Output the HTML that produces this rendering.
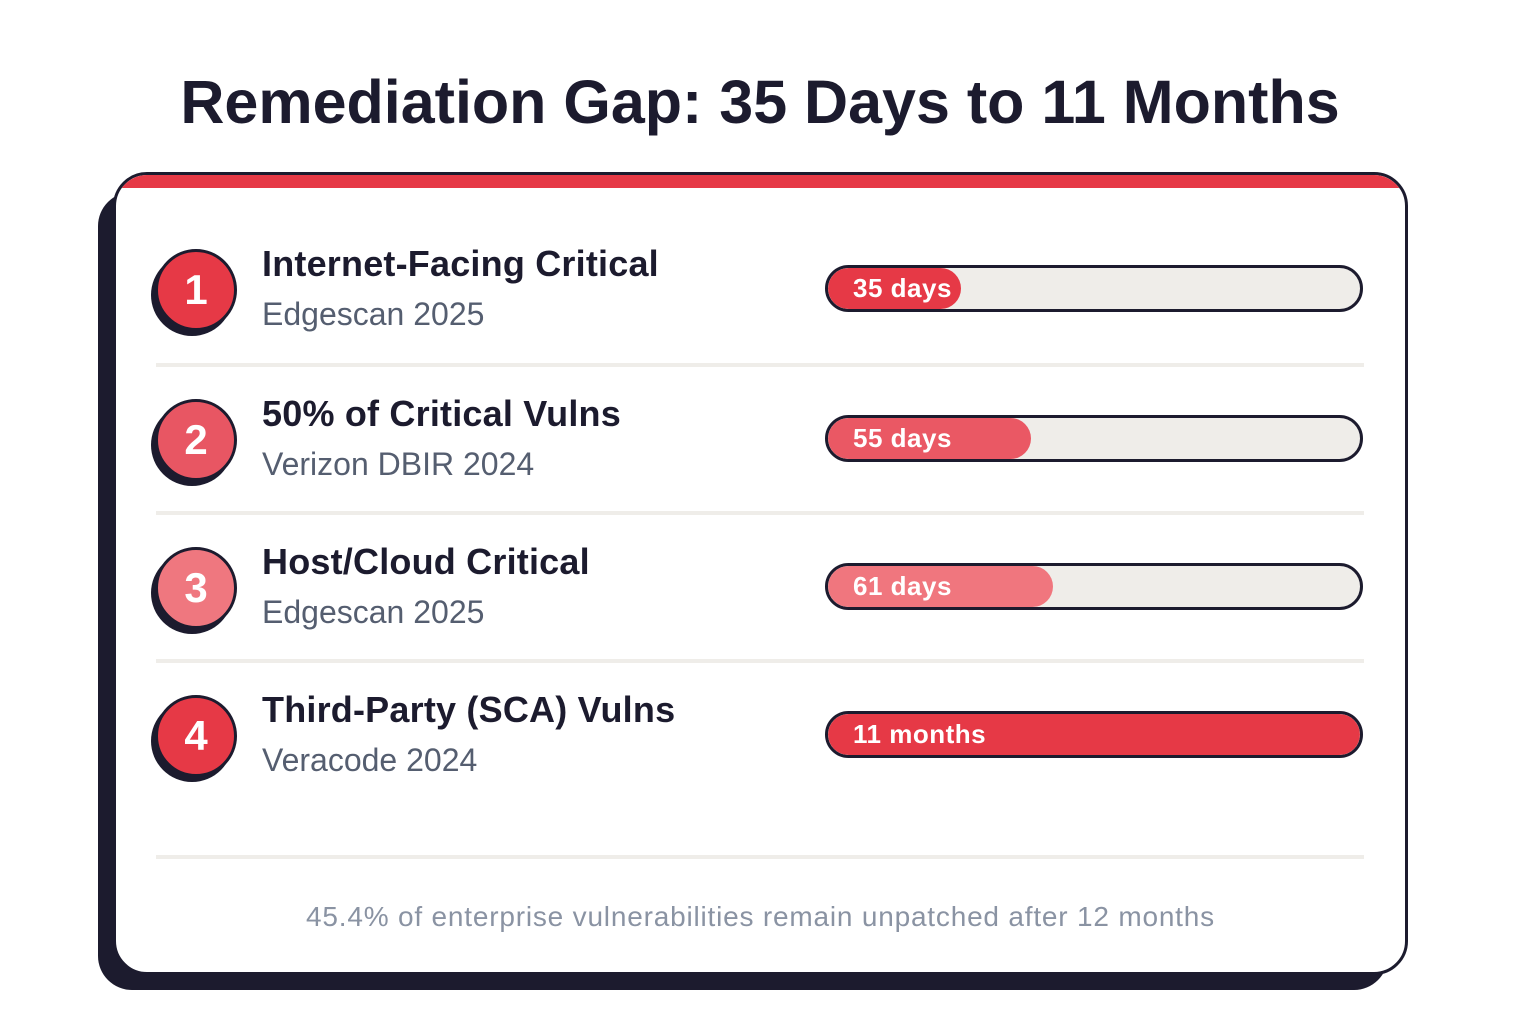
<!DOCTYPE html>
<html><head><style>
body{margin:0;width:1520px;height:1032px;background:#fff;font-family:"Liberation Sans",sans-serif;position:relative;overflow:hidden}
.t{position:absolute;left:0;width:1520px;text-align:center;top:67px;font-size:61px;font-weight:bold;color:#1c1b2e;letter-spacing:0px}
.sh{position:absolute;left:98px;top:192px;width:1290px;height:798px;background:#1c1b2e;border-radius:34px}
.card{position:absolute;left:113px;top:172px;width:1289px;height:797px;background:#fff;border:3px solid #1c1b2e;border-radius:34px;overflow:hidden}
.red{position:absolute;left:0;top:0;width:100%;height:13px;background:#e63946}
.row{position:absolute;left:0;width:100%}
.c{position:absolute;left:39px;width:76px;height:76px;border-radius:50%;border:3px solid #1c1b2e;box-shadow:-4px 5px 0 #1c1b2e;color:#fff;font-size:42px;font-weight:bold;text-align:center;line-height:76px}
.h{position:absolute;left:146px;font-size:36px;font-weight:bold;color:#1c1b2e;letter-spacing:0.2px}
.s{position:absolute;left:146px;font-size:32px;color:#555e70}
.bar{position:absolute;left:709px;width:532px;height:41px;border:3px solid #1c1b2e;border-radius:24px;background:#efede9;overflow:hidden}
.f{height:100%;border-radius:22px;color:#fff;font-size:26px;font-weight:bold;line-height:41px;padding-left:25px;box-sizing:border-box;letter-spacing:0.5px}
.d{position:absolute;left:40px;width:1208px;height:4px;background:#efede9}
.foot{position:absolute;left:0;width:100%;text-align:center;top:726px;font-size:28px;color:#8a93a3;letter-spacing:0.8px}
</style></head><body>
<div class="t">Remediation Gap: 35 Days to 11 Months</div>
<div class="sh"></div>
<div class="card">
<div class="red"></div>
<div class="row" style="top:0">
<div class="c" style="top:74px;background:#e63946">1</div>
<div class="h" style="top:68px">Internet-Facing Critical</div>
<div class="s" style="top:121px">Edgescan 2025</div>
<div class="bar" style="top:90px"><div class="f" style="width:133px;background:#e63946">35 days</div></div>
</div>
<div class="d" style="top:188px"></div>
<div class="row" style="top:0">
<div class="c" style="top:224px;background:#e85663">2</div>
<div class="h" style="top:218px">50% of Critical Vulns</div>
<div class="s" style="top:271px">Verizon DBIR 2024</div>
<div class="bar" style="top:240px"><div class="f" style="width:203px;background:#ea5864">55 days</div></div>
</div>
<div class="d" style="top:336px"></div>
<div class="row" style="top:0">
<div class="c" style="top:372px;background:#ef777f">3</div>
<div class="h" style="top:366px">Host/Cloud Critical</div>
<div class="s" style="top:419px">Edgescan 2025</div>
<div class="bar" style="top:388px"><div class="f" style="width:225px;background:#f0767e">61 days</div></div>
</div>
<div class="d" style="top:484px"></div>
<div class="row" style="top:0">
<div class="c" style="top:520px;background:#e63946">4</div>
<div class="h" style="top:514px">Third-Party (SCA) Vulns</div>
<div class="s" style="top:567px">Veracode 2024</div>
<div class="bar" style="top:536px"><div class="f" style="width:100%;background:#e63946">11 months</div></div>
</div>
<div class="d" style="top:680px"></div>
<div class="foot">45.4% of enterprise vulnerabilities remain unpatched after 12 months</div>
</div>
</body></html>
